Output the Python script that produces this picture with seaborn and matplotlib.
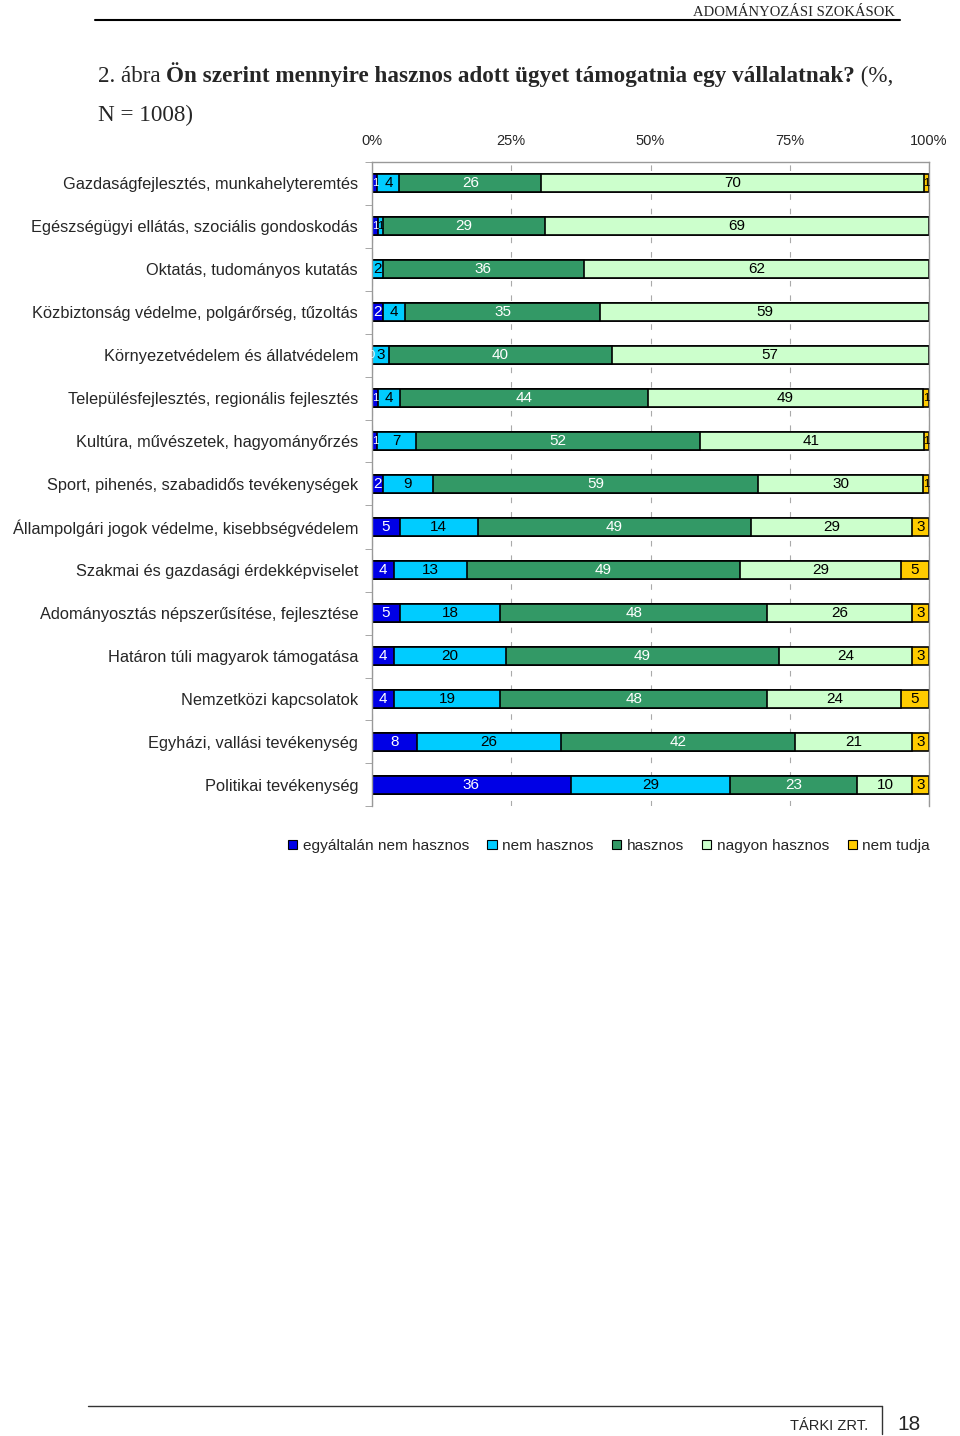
import numpy as np
import pandas as pd
import matplotlib
matplotlib.use('Agg')
import matplotlib.pyplot as plt
from matplotlib.patches import Patch
from matplotlib.lines import Line2D
import seaborn as sns

kategoriak = [
    'Gazdaságfejlesztés, munkahelyteremtés',
    'Egészségügyi ellátás, szociális gondoskodás',
    'Oktatás, tudományos kutatás',
    'Közbiztonság védelme, polgárőrség, tűzoltás',
    'Környezetvédelem és állatvédelem',
    'Településfejlesztés, regionális fejlesztés',
    'Kultúra, művészetek, hagyományőrzés',
    'Sport, pihenés, szabadidős tevékenységek',
    'Állampolgári jogok védelme, kisebbségvédelem',
    'Szakmai és gazdasági érdekképviselet',
    'Adományosztás népszerűsítése, fejlesztése',
    'Határon túli magyarok támogatása',
    'Nemzetközi kapcsolatok',
    'Egyházi, vallási tevékenység',
    'Politikai tevékenység',
]
# NaN = no value printed in the chart
egyaltalan_nem = [1, 1, np.nan, 2, 0, 1, 1, 2, 5, 4, 5, 4, 4, 8, 36]
nem_hasznos = [4, 1, 2, 4, 3, 4, 7, 9, 14, 13, 18, 20, 19, 26, 29]
hasznos = [26, 29, 36, 35, 40, 44, 52, 59, 49, 49, 48, 49, 48, 42, 23]
nagyon_hasznos = [70, 69, 62, 59, 57, 49, 41, 30, 29, 29, 26, 24, 24, 21, 10]
nem_tudja = [1, np.nan, np.nan, np.nan, np.nan, 1, 1, 1, 3, 5, 3, 3, 5, 3, 3]

sorozatok = ['egyáltalán nem hasznos', 'nem hasznos', 'hasznos', 'nagyon hasznos', 'nem tudja']
szinek = ['#0000E6', '#00CCFF', '#339966', '#CCFFCC', '#FFCC00']
felirat_szin = ['white', 'black', 'white', 'black', 'black']
x_tick_labels = ['0%', '25%', '50%', '75%', '100%']

df = pd.DataFrame({'kategoria': kategoriak})
for name, vals in zip(sorozatok, [egyaltalan_nem, nem_hasznos, hasznos, nagyon_hasznos, nem_tudja]):
    df[name] = vals
vals = df[sorozatok].fillna(0)
pct = vals.div(vals.sum(axis=1), axis=0) * 100
cum = pct.cumsum(axis=1)
for i, name in enumerate(sorozatok):
    df['cum_' + str(i)] = cum[name]

sns.set_style('white')
plt.rcParams['font.family'] = ['Liberation Sans', 'DejaVu Sans']

W, H = 960, 1436
fig = plt.figure(figsize=(9.6, 14.36), dpi=100)


def fx(px):
    return px / W


def fy(py):
    return 1 - py / H


ax = fig.add_axes([fx(372), fy(806.5), (929 - 372) / W, 645 / H])

# overlapping cumulative bars give the stacked look
for i in reversed(range(len(sorozatok))):
    sns.barplot(data=df, x='cum_' + str(i), y='kategoria', order=kategoriak,
                orient='h', color=szinek[i], edgecolor='black', linewidth=1.2,
                width=0.44, errorbar=None, saturation=1, ax=ax)

for r in range(len(kategoriak)):
    start = 0
    for i, name in enumerate(sorozatok):
        w = pct.loc[r, name]
        raw = df.loc[r, name]
        if not np.isnan(raw):
            # tiny segments get a smaller label so neighbours don't collide
            fs = 11 if w >= 1.5 else 8
            ax.text(start + w / 2, r, '%d' % raw, ha='center', va='center',
                    fontsize=fs, color=felirat_szin[i])
        start += w

ax.set_xlim(0, 100)
ax.set_ylim(14.5, -0.5)
ax.set_xlabel('')
ax.set_ylabel('')
ax.xaxis.tick_top()
ax.set_xticks([0, 25, 50, 75, 100])
ax.set_xticklabels(x_tick_labels)
ax.tick_params(axis='x', length=0, pad=10, labelsize=10.5)
ax.tick_params(axis='y', which='major', length=0, pad=10, labelsize=11.8)
ax.set_yticks(np.arange(-0.5, 15, 1), minor=True)
ax.tick_params(axis='y', which='minor', length=5, color='#999999', direction='out', left=True)
ax.xaxis.grid(True, color='#aaaaaa', linestyle=(0, (5, 8)), linewidth=0.8)
ax.set_axisbelow(True)
for s in ['top', 'left', 'right']:
    ax.spines[s].set_visible(True)
    ax.spines[s].set_color('#999999')
    ax.spines[s].set_linewidth(1)
ax.spines['bottom'].set_visible(False)

handles = [Patch(facecolor=c, edgecolor='black', linewidth=0.8) for c in szinek]
fig.legend(handles, sorozatok, loc='center left', bbox_to_anchor=(fx(274), fy(846)),
           ncol=5, frameon=False, handlelength=0.6, handleheight=0.6,
           handletextpad=0.35, columnspacing=1.2, fontsize=11.1)

# header
fig.add_artist(Line2D([fx(95), fx(900)], [fy(20), fy(20)], color='black', linewidth=1.5))
fig.text(fx(895), fy(16), 'ADOMÁNYOZÁSI SZOKÁSOK', ha='right', va='baseline',
         fontsize=10.5, family='Liberation Serif')

# title (normal + bold parts)
t1 = fig.text(fx(98), fy(82), '2. ábra ', ha='left', va='baseline',
              fontsize=16.7, family='Liberation Serif')
t2 = fig.text(0, 0, 'Ön szerint mennyire hasznos adott ügyet támogatnia egy vállalatnak?',
              fontsize=16.7, family='Liberation Serif', fontweight='bold')
t3 = fig.text(0, 0, ' (%,', fontsize=16.7, family='Liberation Serif')
fig.canvas.draw()
r = fig.canvas.get_renderer()
e1 = t1.get_window_extent(r)
t2.set_position((e1.x1 / W, fy(82)))
t2.set_va('baseline')
e2 = t2.get_window_extent(r)
t3.set_position((e2.x1 / W, fy(82)))
t3.set_va('baseline')
fig.text(fx(98), fy(121), 'N = 1008)', ha='left', va='baseline',
         fontsize=16.7, family='Liberation Serif')

# footer
fig.add_artist(Line2D([fx(88), fx(882)], [fy(1406), fy(1406)], color='#333333', linewidth=1))
fig.add_artist(Line2D([fx(882), fx(882)], [fy(1406), fy(1434)], color='#333333', linewidth=1))
fig.text(fx(868), fy(1430), 'TÁRKI ZRT.', ha='right', va='baseline', fontsize=10.5)
fig.text(fx(897), fy(1430), '18', ha='left', va='baseline', fontsize=15)

fig.savefig('out.png', dpi=100)
